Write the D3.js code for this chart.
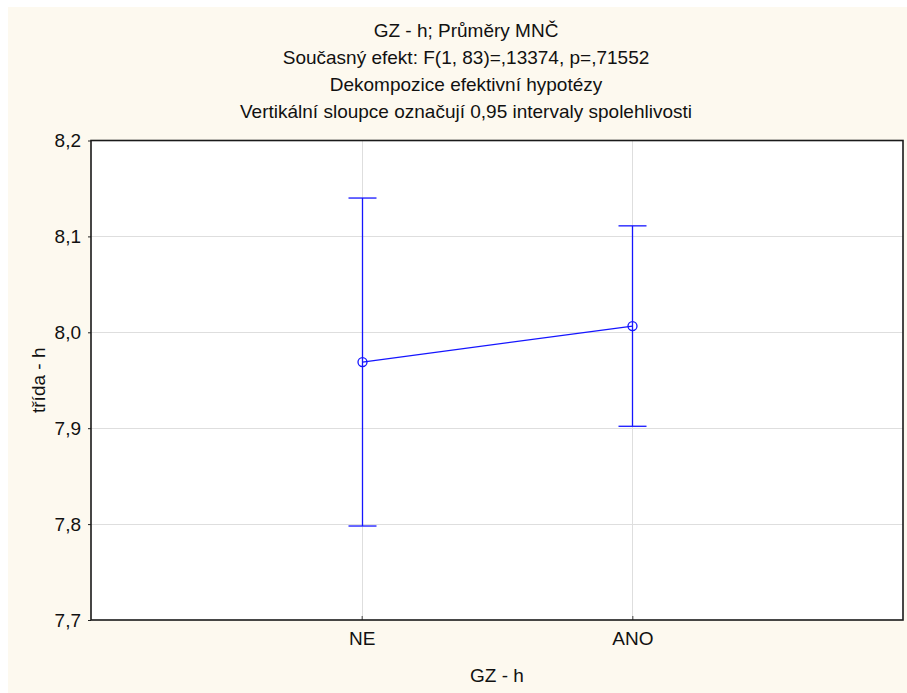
<!DOCTYPE html>
<html>
<head>
<meta charset="utf-8">
<script src="https://cdn.jsdelivr.net/npm/d3@7/dist/d3.min.js"></script>
<style>
  html, body { margin: 0; padding: 0; background: #ffffff; }
  svg { display: block; font-family: "Liberation Sans", Arial, sans-serif; }
</style>
</head>
<body>
<svg id="chart" width="907" height="693"></svg>
<script>
// Group labels and least-squares means with 0.95 confidence limits
const categories = ["NE", "ANO"];
const means = [7.969, 8.0065];
const lowerCI = [7.798, 7.902];
const upperCI = [8.140, 8.111];
const yTicks = [7.7, 7.8, 7.9, 8.0, 8.1, 8.2];

const titleLines = [
  "GZ - h; Průměry MNČ",
  "Současný efekt: F(1, 83)=,13374, p=,71552",
  "Dekompozice efektivní hypotézy",
  "Vertikální sloupce označují 0,95 intervaly spolehlivosti"
];
const xTitle = "GZ - h";
const yTitle = "třída - h";

const W = 907, H = 693;
const FS = 19;
const plot = { left: 91, top: 140.5, right: 903, bottom: 620 };

const svg = d3.select("#chart");

// page background
svg.append("rect")
  .attr("x", 8).attr("y", 7)
  .attr("width", W - 8).attr("height", H - 7)
  .attr("fill", "#fdf9ef");

// plot area
svg.append("rect")
  .attr("x", plot.left).attr("y", plot.top)
  .attr("width", plot.right - plot.left).attr("height", plot.bottom - plot.top)
  .attr("fill", "#ffffff");

const x = d3.scalePoint()
  .domain(categories)
  .range([plot.left, plot.right])
  .padding(1);

const y = d3.scaleLinear()
  .domain([7.7, 8.2])
  .range([plot.bottom, plot.top]);

const fmt = v => d3.format(".1f")(v).replace(".", ",");

// grid
const grid = svg.append("g").attr("stroke", "#dedede").attr("stroke-width", 1);
grid.selectAll("line.h")
  .data(yTicks.slice(1, -1))
  .join("line")
  .attr("x1", plot.left).attr("x2", plot.right)
  .attr("y1", d => Math.round(y(d)) + 0.5).attr("y2", d => Math.round(y(d)) + 0.5);
grid.selectAll("line.v")
  .data(categories)
  .join("line")
  .attr("y1", plot.top).attr("y2", plot.bottom)
  .attr("x1", d => Math.round(x(d)) + 0.5).attr("x2", d => Math.round(x(d)) + 0.5);

// y axis
const yAxis = d3.axisLeft(y)
  .tickValues(yTicks)
  .tickFormat(fmt)
  .tickSize(3)
  .tickPadding(7);
const gy = svg.append("g")
  .attr("transform", `translate(${plot.left},0)`)
  .call(yAxis);
gy.select(".domain").remove();
gy.selectAll(".tick line").attr("stroke", "#222");
gy.selectAll("text")
  .attr("font-size", FS)
  .attr("fill", "#111")
  .attr("font-family", "Liberation Sans, Arial, sans-serif");

// x axis
const xAxis = d3.axisBottom(x).tickSizeInner(-4).tickSizeOuter(0).tickPadding(12);
const gx = svg.append("g")
  .attr("transform", `translate(0,${plot.bottom})`)
  .call(xAxis);
gx.select(".domain").remove();
gx.selectAll(".tick line").attr("stroke", "#444");
gx.selectAll("text")
  .attr("font-size", FS)
  .attr("fill", "#111")
  .attr("font-family", "Liberation Sans, Arial, sans-serif");

// frame
svg.append("rect")
  .attr("x", plot.left).attr("y", plot.top)
  .attr("width", plot.right - plot.left).attr("height", plot.bottom - plot.top)
  .attr("fill", "none")
  .attr("stroke", "#1a1a1a")
  .attr("stroke-width", 1.6);

// confidence intervals
const blue = "#1515ff";
const capHalf = 14;
const bars = svg.append("g").attr("stroke", blue).attr("stroke-width", 1.3).attr("fill", "none");
categories.forEach((c, i) => {
  const cx = Math.round(x(c)) + 0.5;
  bars.append("line")
    .attr("x1", cx).attr("x2", cx)
    .attr("y1", y(upperCI[i])).attr("y2", y(lowerCI[i]));
  bars.append("line")
    .attr("x1", cx - capHalf).attr("x2", cx + capHalf)
    .attr("y1", y(upperCI[i])).attr("y2", y(upperCI[i]));
  bars.append("line")
    .attr("x1", cx - capHalf).attr("x2", cx + capHalf)
    .attr("y1", y(lowerCI[i])).attr("y2", y(lowerCI[i]));
});

// mean line and markers
const line = d3.line()
  .x((d, i) => Math.round(x(categories[i])) + 0.5)
  .y(d => y(d));
svg.append("path")
  .datum(means)
  .attr("d", line)
  .attr("fill", "none")
  .attr("stroke", blue)
  .attr("stroke-width", 1.3);
svg.selectAll("circle.mean")
  .data(means)
  .join("circle")
  .attr("cx", (d, i) => Math.round(x(categories[i])) + 0.5)
  .attr("cy", d => y(d))
  .attr("r", 4.5)
  .attr("fill", "none")
  .attr("stroke", blue)
  .attr("stroke-width", 1.3);

// titles
svg.append("g")
  .selectAll("text")
  .data(titleLines)
  .join("text")
  .attr("x", 466)
  .attr("y", (d, i) => 37 + i * 27)
  .attr("text-anchor", "middle")
  .attr("font-size", FS)
  .attr("fill", "#111")
  .text(d => d);

svg.append("text")
  .attr("x", (plot.left + plot.right) / 2)
  .attr("y", 682)
  .attr("text-anchor", "middle")
  .attr("font-size", FS)
  .attr("fill", "#111")
  .text(xTitle);

svg.append("text")
  .attr("transform", `translate(45,${(plot.top + plot.bottom) / 2}) rotate(-90)`)
  .attr("text-anchor", "middle")
  .attr("font-size", FS)
  .attr("fill", "#111")
  .text(yTitle);
</script>
</body>
</html>
